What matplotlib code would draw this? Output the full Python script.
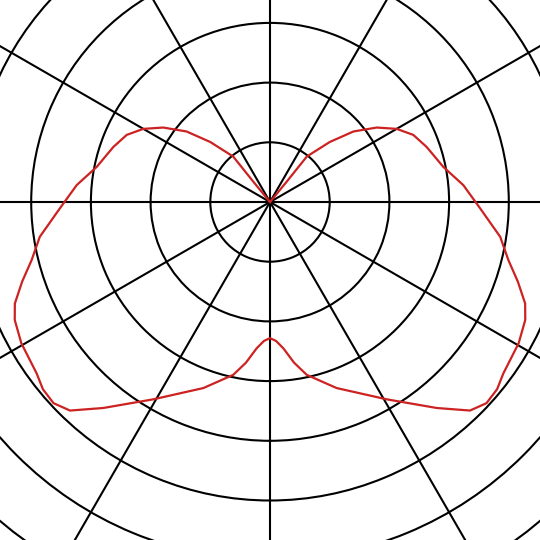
import numpy as np
import matplotlib
matplotlib.use("Agg")
from matplotlib import pyplot as plt

# luminous intensity curve (one half, mirrored), angle from nadir in degrees
angles = [0, 2.5, 5.2, 8.5, 12.0, 19.7, 30.6, 39.0, 43.8, 47.1, 50.5, 53.7,
          60.4, 65.2, 68.3, 72.2, 76.3, 81.4, 88.3, 95.0, 101.5, 105.5,
          109.4, 115.1, 120.0, 124.9, 130.2, 135.1, 141.0, 140.6, 140.0]
values = [2.28, 2.33, 2.46, 2.72, 2.96, 3.31, 3.84, 4.44, 4.84, 4.95, 4.93, 4.85,
          4.79, 4.71, 4.60, 4.36, 4.11, 3.90, 3.52, 3.25, 2.96, 2.86,
          2.78, 2.65, 2.45, 2.18, 1.83, 1.42, 0.98, 0.44, 0.0]
rings = [1, 2, 3, 4, 5, 6, 7]
rmax = 8

ang = np.array(angles)
val = np.array(values)
theta = np.deg2rad(np.concatenate([-ang[::-1], ang[1:]]))
r = np.concatenate([val[::-1], val[1:]])

W = 540
unit = 59.7  # pixels per ring
cx, cy = 270, 202
rad = unit * rmax

fig = plt.figure(figsize=(5.4, 5.4), dpi=100)
ax = fig.add_axes([(cx - rad) / W, (W - cy - rad) / W, 2 * rad / W, 2 * rad / W],
                  projection='polar')
ax.set_theta_zero_location('S')
ax.set_ylim(0, rmax)
ax.set_rgrids(rings)
ax.set_thetagrids(np.arange(0, 360, 30))
ax.set_xticklabels([])
ax.set_yticklabels([])
ax.grid(True, color='black', linewidth=1.5)
ax.spines['polar'].set_visible(False)
ax.tick_params(length=0)

ax.plot(theta, r, color='#cc2222', linewidth=1.6, zorder=3,
        solid_joinstyle='round')

fig.savefig('out.png', dpi=100)
